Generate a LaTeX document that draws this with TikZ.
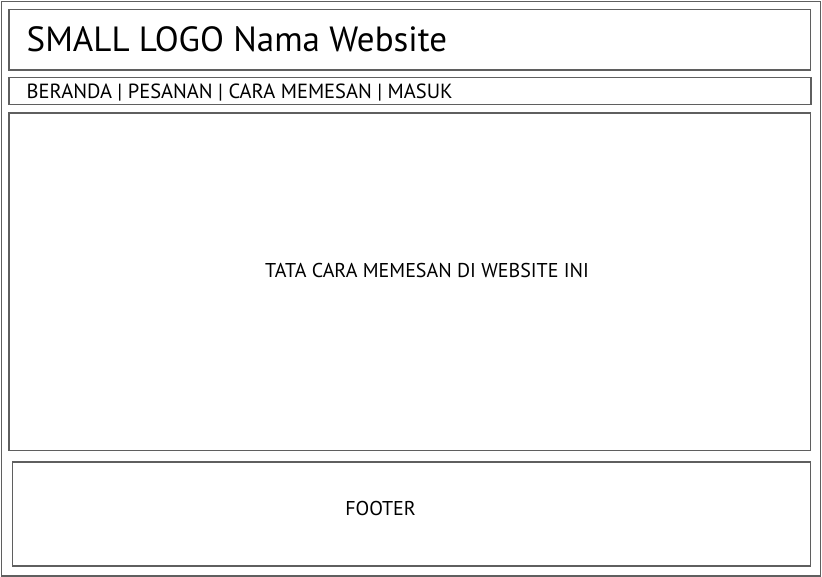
\documentclass[tikz,border=0pt]{standalone}
\usepackage{fontspec}
\setmainfont{PT Sans}
\begin{document}
\begin{tikzpicture}[x=1pt,y=-1pt,
  frame/.style={draw={rgb,255:red,95;green,95;blue,95}, line width=1.4pt},
  txt/.style={inner sep=0pt, text=black}]
\useasboundingbox (0,0) rectangle (822,577);
\draw[frame] (1.5,1.5) rectangle (820.5,576);
\draw[frame] (9,9.5) rectangle (810.5,70);
\draw[frame] (9,77.5) rectangle (811,104.5);
\draw[frame] (9,113) rectangle (810.5,450.5);
\draw[frame] (12.5,462) rectangle (810.5,566);
\node[txt, anchor=base west, font=\fontsize{35}{38}\selectfont] (logo) at (26.5,52) {SMALL LOGO Nama Website};
\node[txt, anchor=base west, font=\fontsize{20.5}{24}\selectfont] (nav) at (26.5,99) {BERANDA | PESANAN | CARA MEMESAN | MASUK};
\node[txt, anchor=base, font=\fontsize{20}{24}\selectfont] (main) at (427,278) {TATA CARA MEMESAN DI WEBSITE INI};
\node[txt, anchor=base, font=\fontsize{20}{24}\selectfont] (foot) at (380.5,515) {FOOTER};
\end{tikzpicture}
\end{document}
